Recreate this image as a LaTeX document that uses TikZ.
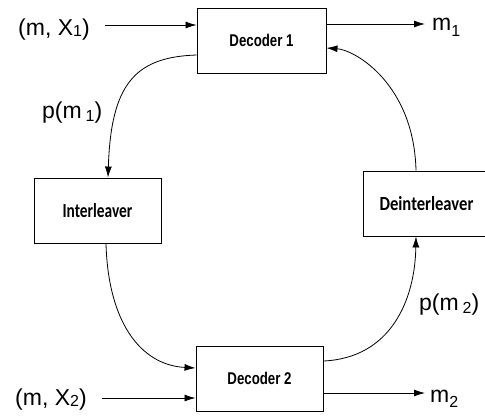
\documentclass[tikz,border=0pt]{standalone}
\usepackage{fontspec}
\setmainfont{Liberation Sans}
\newfontfamily\lblfont{Liberation Sans}
\newfontfamily\decfont[FakeStretch=0.78]{Liberation Sans}
\newfontfamily\ilfont[FakeStretch=0.77]{Carlito}
\newfontfamily\dilfont[FakeStretch=0.83]{Carlito}
\usetikzlibrary{calc,arrows.meta}

% subscript digit, set smaller and dropped below the baseline
\newcommand{\lsub}[2][2pt]{\raisebox{-#1}{\fontsize{16}{16}\selectfont #2}}

\begin{document}
\begin{tikzpicture}[x=1pt,y=-1pt,
  blk/.style={draw, line width=0.9pt, minimum width=127pt, minimum height=65pt, inner sep=0pt},
  dectext/.style={font=\decfont\bfseries\fontsize{17}{17}\selectfont},
  lbl/.style={inner sep=0pt, anchor=base west, font=\lblfont\fontsize{23}{23}\selectfont},
  conn/.style={line width=0.8pt, -{Latex[length=11pt,width=7pt]}},
]
\useasboundingbox (0,0) rectangle (485,416);

% blocks
\node[blk, minimum width=129pt, dectext] (d1) at (261.5,40.5) {Decoder 1};
\node[blk, dectext] (d2) at (259.5,378.5) {Decoder 2};
\node[blk, font=\ilfont\bfseries\fontsize{20}{20}\selectfont] (il) at (97.5,210.5) {Interleaver};
\node[blk, font=\dilfont\bfseries\fontsize{20}{20}\selectfont] (dil) at (426.5,203.5) {Deinterleaver};

% signal labels
\node[lbl] (in1) at (18,35) {(m, X\lsub[1pt]{1})};
\node[lbl] (in2) at (15,405) {(m, X\lsub[1pt]{2})};
\node[lbl] (out1) at (432,30) {m\lsub[6pt]{1}};
\node[lbl] (out2) at (430,402) {m\lsub[5pt]{2}};
\node[lbl] (pm1) at (42,118) {p(m\,\lsub[3pt]{1})};
\node[lbl] (pm2) at (419,310) {p(m\,\lsub[3pt]{2})};

% straight inputs and outputs
\coordinate (a1) at (105,25);
\coordinate (b1) at (425,24);
\coordinate (a2) at (102,398);
\coordinate (b2) at (425,393);
\draw[conn] (a1) -- (a1 -| d1.west);
\draw[conn] (b1 -| d1.east) -- (b1);
\draw[conn] (a2) -- (a2 -| d2.west);
\draw[conn] (b2 -| d2.east) -- (b2);

% feedback loop
\draw[conn] ($(d1.west)+(0,14.5)$) .. controls +(-62,2) and +(3,-93) .. ($(il.north)+(10.5,0)$);
\draw[conn] ($(il.south)+(8.5,0)$) .. controls +(2,77) and +(-56,-3) .. ($(d2.west)+(0,-10.5)$);
\draw[conn] ($(d2.east)+(0,-17.5)$) .. controls +(67,-3) and +(-1,64) .. ($(dil.south)+(-10.5,0)$);
\draw[conn] ($(dil.north)+(-10.5,0)$) .. controls +(-2,-86) and +(29,2) .. ($(d1.east)+(0,7.5)$);
\end{tikzpicture}
\end{document}
